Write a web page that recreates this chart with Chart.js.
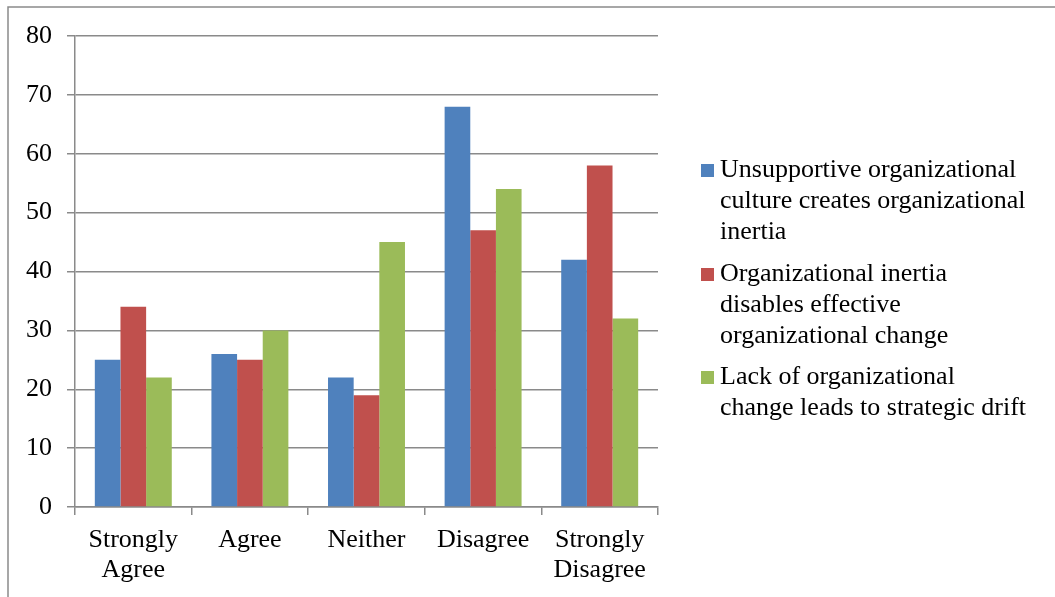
<!DOCTYPE html>
<html>
<head>
<meta charset="utf-8">
<script src="https://cdn.jsdelivr.net/npm/chart.js@4/dist/chart.umd.min.js"></script>
<style>
  html, body { margin: 0; padding: 0; background: #fff; }
  #wrap { position: relative; width: 1055px; height: 597px; }
</style>
</head>
<body>
<div id="wrap"><canvas id="myChart" width="1055" height="597"></canvas></div>
<script>
var categories = [['Strongly', 'Agree'], 'Agree', 'Neither', 'Disagree', ['Strongly', 'Disagree']];
var cultureInertia = [25, 26, 22, 68, 42];
var inertiaChange = [34, 25, 19, 47, 58];
var changeDrift = [22, 30, 45, 54, 32];
var seriesNames = [
    ['Unsupportive organizational', 'culture creates organizational', 'inertia'],
    ['Organizational inertia', 'disables effective', 'organizational change'],
    ['Lack of organizational', 'change leads to strategic drift']
];
var yTicks = [0, 10, 20, 30, 40, 50, 60, 70, 80];

var FONT = "'Liberation Serif', 'Times New Roman', serif";
var GREY = '#8a8a8a';

// outer frame + legend on the right
var framePlugin = {
    id: 'frame',
    beforeDraw: function(chart) {
        var c = chart.ctx;
        c.save();
        c.strokeStyle = GREY;
        c.lineWidth = 1.5;
        c.beginPath();
        c.moveTo(8, 597);
        c.lineTo(8, 7);
        c.lineTo(1055, 7);
        c.stroke();
        c.restore();
    },
    afterDraw: function(chart) {
        var c = chart.ctx;
        var starts = [170, 274, 377];
        c.save();
        c.font = '26px ' + FONT;
        c.textBaseline = 'middle';
        c.fillStyle = '#000';
        chart.data.datasets.forEach(function(ds, i) {
            var y = starts[i];
            c.fillStyle = ds.backgroundColor;
            c.fillRect(701, y - 6, 13, 13);
            c.fillStyle = '#000';
            seriesNames[i].forEach(function(line, j) {
                c.fillText(line, 720, y + j * 31);
            });
        });
        c.restore();
    }
};

var ctx = document.getElementById('myChart').getContext('2d');
var myChart = new Chart(ctx, {
    type: 'bar',
    data: {
        labels: categories,
        datasets: [
            { label: seriesNames[0].join(' '), data: cultureInertia, backgroundColor: '#4F81BD' },
            { label: seriesNames[1].join(' '), data: inertiaChange, backgroundColor: '#C0504D' },
            { label: seriesNames[2].join(' '), data: changeDrift, backgroundColor: '#9BBB59' }
        ]
    },
    options: {
        responsive: false,
        animation: false,
        categoryPercentage: 0.66,
        barPercentage: 1.0,
        layout: { padding: { left: 0, top: 36, right: 397, bottom: 0 } },
        plugins: {
            legend: { display: false },
            tooltip: { enabled: false }
        },
        scales: {
            x: {
                afterFit: function(s) { s.height = 90; },
                grid: {
                    offset: true,
                    drawOnChartArea: false,
                    drawTicks: true,
                    tickLength: 8,
                    color: GREY,
                    lineWidth: 1.5
                },
                border: { color: GREY, width: 1.5 },
                ticks: {
                    color: '#000',
                    padding: 10,
                    maxRotation: 0,
                    font: { family: FONT, size: 26, lineHeight: 1.15 }
                }
            },
            y: {
                min: 0,
                max: 80,
                afterFit: function(s) { s.width = 75; },
                afterBuildTicks: function(s) {
                    s.ticks = yTicks.map(function(v) { return { value: v }; });
                },
                grid: {
                    color: GREY,
                    lineWidth: 1.5,
                    tickLength: 8
                },
                border: { color: GREY, width: 1.5 },
                ticks: {
                    color: '#000',
                    padding: 15,
                    font: { family: FONT, size: 26 }
                }
            }
        }
    },
    plugins: [framePlugin]
});
</script>
</body>
</html>
